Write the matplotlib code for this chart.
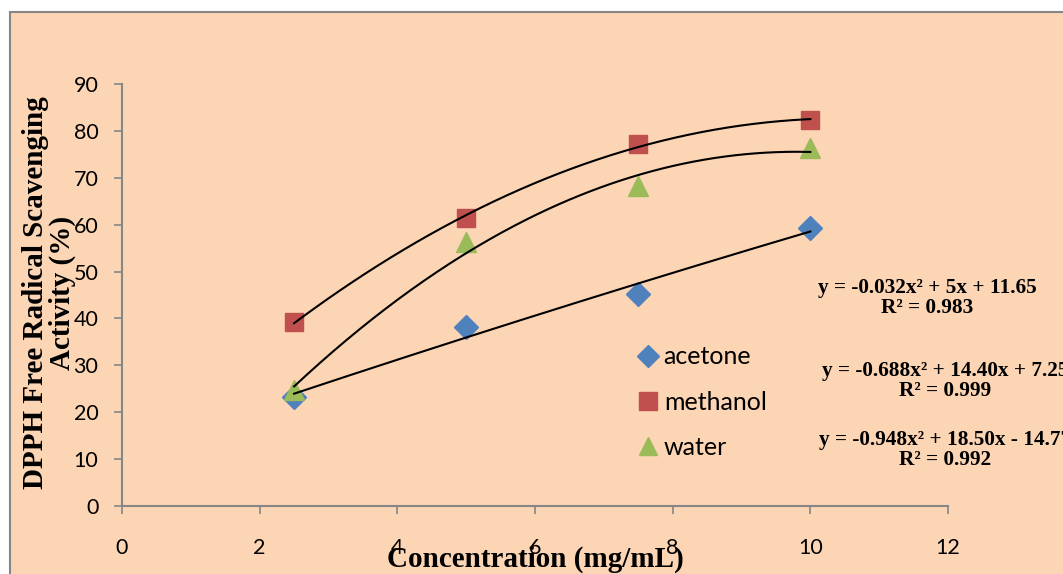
import numpy as np
import matplotlib
matplotlib.use("Agg")
import matplotlib.pyplot as plt
from matplotlib.patches import Rectangle
from matplotlib.lines import Line2D

conc = [2.5, 5, 7.5, 10]
acetone = [23.2, 38.2, 45.2, 59.3]
methanol = [39.2, 61.4, 77.2, 82.3]
water = [24.7, 56.3, 68.2, 76.3]
series_names = ["acetone", "methanol", "water"]
eq_texts = ["y = -0.032x\u00b2 + 5x + 11.65\nR\u00b2 = 0.983",
            "y = -0.688x\u00b2 + 14.40x + 7.25\nR\u00b2 = 0.999",
            "y = -0.948x\u00b2 + 18.50x - 14.77\nR\u00b2 = 0.992"]
xticks = [0, 2, 4, 6, 8, 10, 12]
yticks = [0, 10, 20, 30, 40, 50, 60, 70, 80, 90]

W, H = 1063, 574
fig = plt.figure(figsize=(W/100, H/100), dpi=100)
fig.patch.set_facecolor("white")
bg = "#FCD5B5"
fig.patches.append(Rectangle((10/W, -0.1), 1.2, (H-12)/H + 0.1, transform=fig.transFigure,
                             facecolor=bg, edgecolor="#868686", linewidth=1.5, zorder=-5))

ax = fig.add_axes([122/W, 68/H, 826/W, 422/H])
ax.set_zorder(2)
ax.set_facecolor("none")
ax.set_xlim(0, 12)
ax.set_ylim(0, 90)
ax.set_xticks(xticks)
ax.set_yticks(yticks)
for s in ["top", "right"]:
    ax.spines[s].set_visible(False)
for s in ["left", "bottom"]:
    ax.spines[s].set_color("#868686")
    ax.spines[s].set_linewidth(1.5)
ax.tick_params(axis="both", colors="#868686", length=6, width=1.2, direction="out",
               labelcolor="black", labelsize=15.5)
ax.tick_params(axis="x", pad=17)
ax.tick_params(axis="y", pad=11)
for lab in ax.get_xticklabels() + ax.get_yticklabels():
    lab.set_fontfamily("Lato")

styles = [("D", "#4F81BD", 12), ("s", "#C0504D", 13), ("^", "#9BBB59", 14)]
data = [acetone, methanol, water]
xs = np.linspace(conc[0], conc[-1], 200)
for (m, c, ms), ys, name in zip(styles, data, series_names):
    ax.plot(conc, ys, linestyle="none", marker=m, color=c, markersize=ms, zorder=3, label=name)
for ys in data:
    p = np.polyfit(conc, ys, 2)
    ax.plot(xs, np.polyval(p, xs), color="black", lw=1.5, zorder=4)

handles = [Line2D([], [], linestyle="none", marker=m, color=c, markersize=ms*0.95)
           for (m, c, ms) in styles]
leg = ax.legend(handles, series_names, loc="upper left",
                bbox_to_anchor=((610-122)/826, (506-323)/422),
                frameon=False, handletextpad=0.05, labelspacing=0.89, handlelength=1.2,
                prop={"family": "Lato", "size": 18})

eq_pos = [(927, 298), (945, 381), (945, 450)]
for (px, py), t in zip(eq_pos, eq_texts):
    fig.text(px/W, 1 - py/H, t, ha="center", va="center", fontsize=15.3,
             fontweight="bold", family="Liberation Serif", linespacing=1.05)

fig.text(535/W, 1 - 559/H, "Concentration (mg/mL)", ha="center", va="center",
         fontsize=21, fontweight="bold", family="Liberation Serif")
fig.text(49/W, 1 - 293/H, "DPPH Free Radical Scavenging\nActivity (%)", ha="center", va="center",
         rotation=90, fontsize=21, fontweight="bold", family="Liberation Serif", linespacing=1.0)

fig.savefig("out.png", dpi=100)
